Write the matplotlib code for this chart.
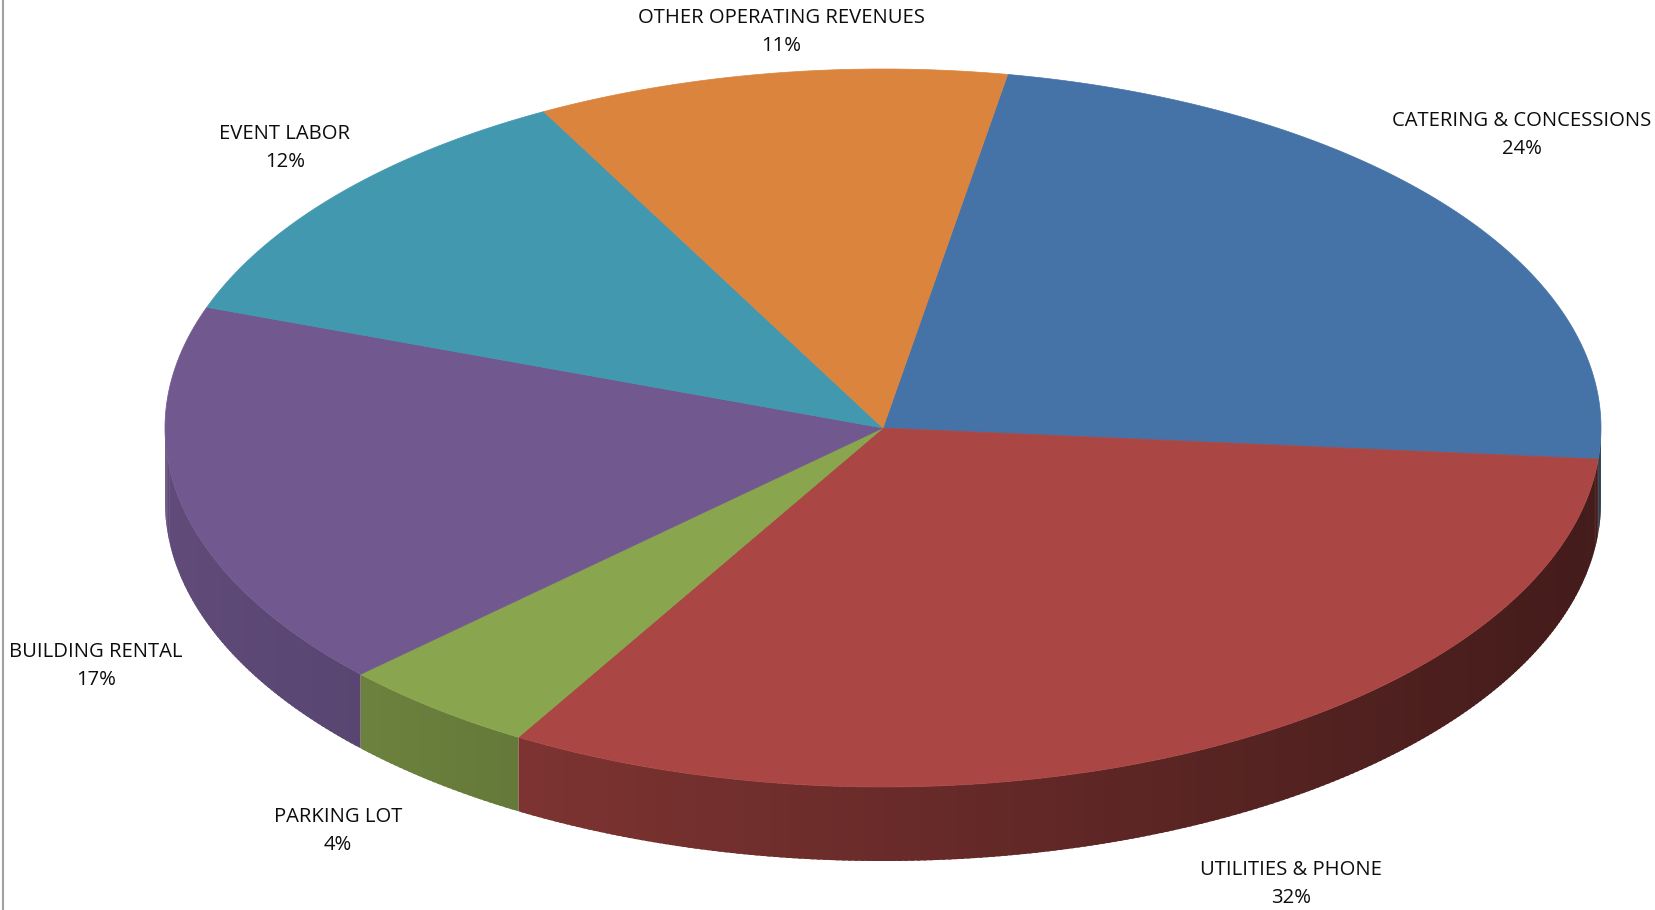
import numpy as np
import matplotlib
matplotlib.use('Agg')
import matplotlib.pyplot as plt
from matplotlib.patches import Polygon
from matplotlib.collections import PolyCollection
from matplotlib import colors as mcolors

# Données (parts en %)
categories = ['CATERING & CONCESSIONS', 'UTILITIES & PHONE', 'PARKING LOT',
              'BUILDING RENTAL', 'EVENT LABOR', 'OTHER OPERATING REVENUES']
parts = [23.6, 32.1, 4.49, 17.49, 11.71, 10.61]
couleurs = ['#4572A7', '#AA4643', '#89A54E', '#71588F', '#4198AF', '#DB843D']

# Géométrie de la tarte (en pixels de la figure)
W, H = 1656, 910
cx, cy = 883, 428
rx, ry = 718, 359
epaisseur = 74
depart = 10  # degrés, sens horaire depuis le haut

# Positions des étiquettes (centre du bloc de texte)
pos_etiquettes = [(1522, 135), (1291, 884), (338, 831),
                  (96, 666), (285, 148), (781, 32)]


def point(theta, dz=0.0):
    t = np.radians(theta)
    return cx + rx*np.sin(t), cy - ry*np.cos(t) + dz


def ombre(theta):
    # plus sombre quand la paroi regarde vers la droite
    return 0.62 - 0.227*np.sin(np.radians(theta))


fig = plt.figure(figsize=(W/100, H/100), dpi=100)
ax = fig.add_axes([0, 0, 1, 1])
ax.set_xlim(0, W)
ax.set_ylim(H, 0)
ax.axis('off')

total = sum(parts)
bornes = depart + 360*np.concatenate([[0], np.cumsum(parts)])/total

# Parois (seulement la moitié avant, entre 90° et 270°)
for i in range(len(parts)):
    a, b = bornes[i], bornes[i+1]
    a2, b2 = max(a, 90), min(b, 270)
    if a2 >= b2:
        continue
    n = max(2, int((b2 - a2)*2))
    th = np.linspace(a2, b2, n+1)
    pas = th[1] - th[0]
    base = np.array(mcolors.to_rgb(couleurs[i]))
    polys, faces = [], []
    for k, (t0, t1) in enumerate(zip(th[:-1], th[1:])):
        t1b = min(t1 + pas*0.6, b2)  # léger recouvrement, pas de rayures
        arc = np.linspace(t0, t1b, 4)
        haut = np.column_stack(point(arc))
        bas = np.column_stack(point(arc[::-1], epaisseur))
        polys.append(np.vstack([haut, bas]))
        faces.append(np.clip(base*ombre((t0 + t1)/2), 0, 1))
    ax.add_collection(PolyCollection(polys, facecolors=faces,
                                     edgecolors='none', linewidths=0))

# Dessus des parts
for i in range(len(parts)):
    th = np.linspace(bornes[i], bornes[i+1], 200)
    xs, ys = point(th)
    pts = np.column_stack([np.r_[cx, xs], np.r_[cy, ys]])
    ax.add_patch(Polygon(pts, closed=True, facecolor=couleurs[i],
                         edgecolor=couleurs[i], linewidth=0.5))

# Étiquettes
for i, nom in enumerate(categories):
    x, y = pos_etiquettes[i]
    ax.text(x, y, f"{nom}\n{round(parts[i])}%", ha='center', va='center',
            fontsize=14.6, family='Open Sans', color='#0d0d0d',
            linespacing=1.55)

# Bordure gauche du cadre
ax.plot([3, 3], [0, H], color='#a0a0a0', linewidth=1.5)

fig.savefig('out.png', dpi=100)
